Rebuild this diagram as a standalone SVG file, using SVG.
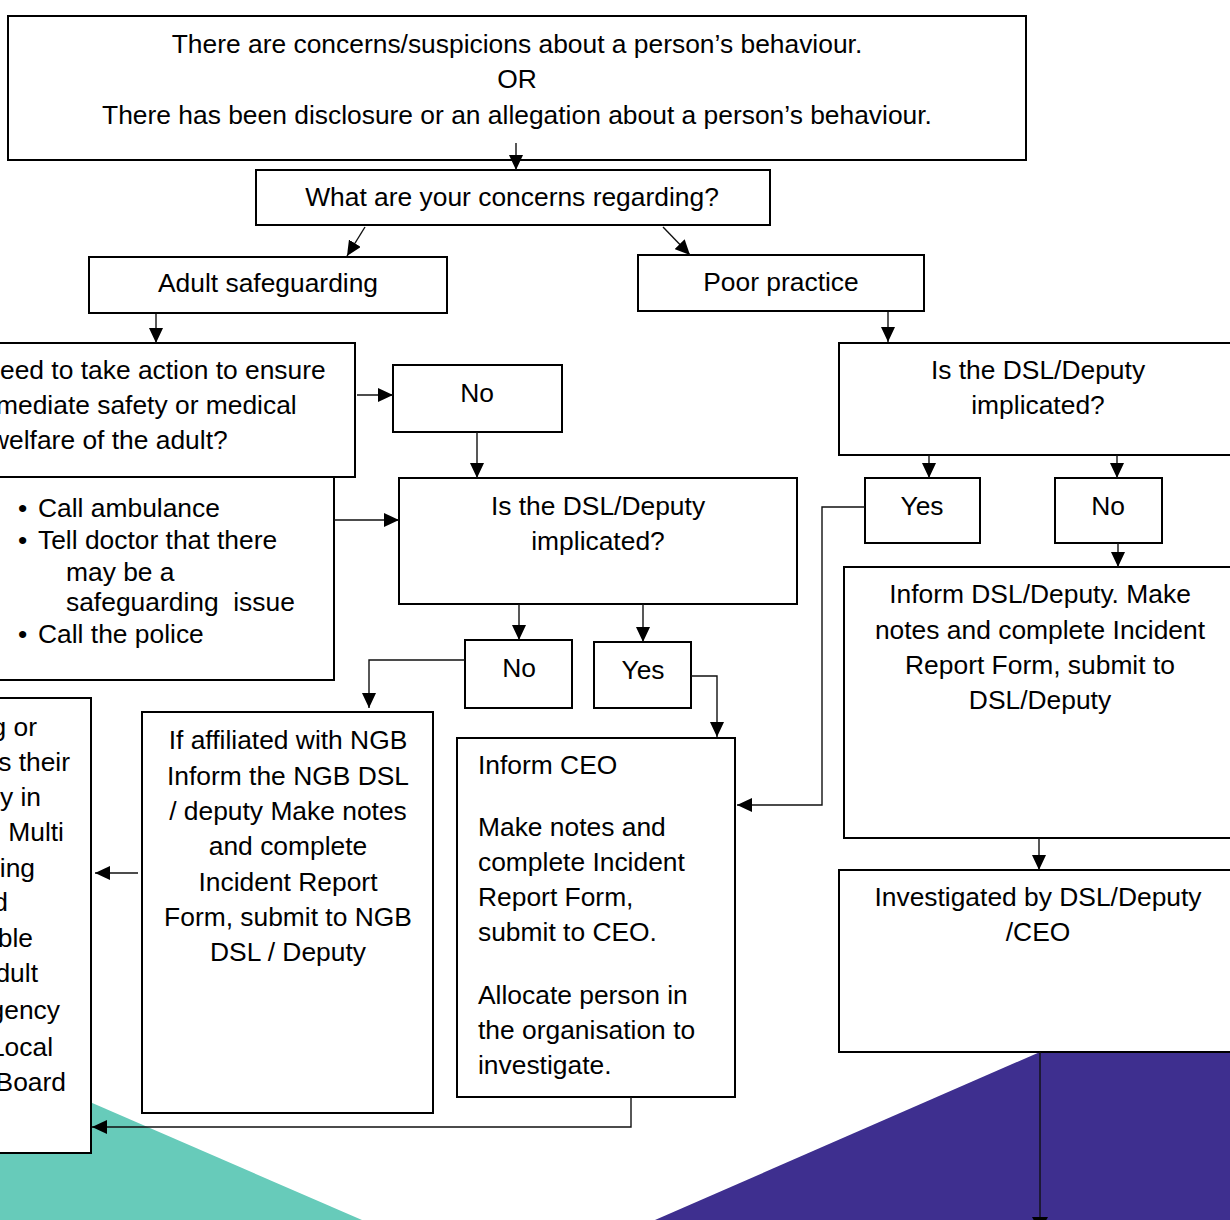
<svg xmlns="http://www.w3.org/2000/svg" width="1230" height="1220" viewBox="0 0 1230 1220">
<defs>
<style>
.box{fill:#fff;stroke:#000;stroke-width:2}
.t{font-family:"Liberation Sans",Arial,sans-serif;font-size:26.4px;fill:#000}
.c{text-anchor:middle}
.e{text-anchor:end}
.ln{fill:none;stroke:#111;stroke-width:1.4}
</style>
<marker id="ah" markerUnits="userSpaceOnUse" markerWidth="15" markerHeight="14" refX="15" refY="7" orient="auto">
<path d="M0,0 L15,7 L0,14 z" fill="#000"/>
</marker>
</defs>
<rect width="1230" height="1220" fill="#fff"/>
<g id="background">
<polygon points="0,1063 362,1220 0,1220" fill="#67CBBA"/>
<polygon points="655,1220 1230,1220 1230,969" fill="#3E2F8F"/>
</g>
<g id="n-top">
<rect class="box" x="8" y="16" width="1018" height="144"/>
<text class="t c" x="517" y="53">There are concerns/suspicions about a person’s behaviour.</text>
<text class="t c" x="517" y="88">OR</text>
<text class="t c" x="517" y="124">There has been disclosure or an allegation about a person’s behaviour.</text>
</g>
<g id="n-what">
<rect class="box" x="256" y="170" width="514" height="55"/>
<text class="t c" x="512" y="206">What are your concerns regarding?</text>
</g>
<g id="n-adult">
<rect class="box" x="89" y="257" width="358" height="56"/>
<text class="t c" x="268" y="292">Adult safeguarding</text>
</g>
<g id="n-poor">
<rect class="box" x="638" y="255" width="286" height="56"/>
<text class="t c" x="781" y="291">Poor practice</text>
</g>
<g id="n-action">
<rect class="box" x="-10" y="343" width="365" height="134"/>
<text class="t" x="0" y="379">eed to take action to ensure</text>
<text class="t" x="-4" y="414">mediate safety or medical</text>
<text class="t" x="-10" y="449">welfare of the adult?</text>
</g>
<g id="n-no1">
<rect class="box" x="393" y="365" width="169" height="67"/>
<text class="t c" x="477" y="402">No</text>
</g>
<g id="n-bullets">
<rect class="box" x="-10" y="477" width="344" height="203"/>
<text class="t" x="18" y="517">•</text><text class="t" x="38" y="517">Call ambulance</text>
<text class="t" x="18" y="549">•</text><text class="t" x="38" y="549">Tell doctor that there</text>
<text class="t" x="66" y="581">may be a</text>
<text class="t" x="66" y="611" xml:space="preserve">safeguarding  issue</text>
<text class="t" x="18" y="643">•</text><text class="t" x="38" y="643">Call the police</text>
</g>
<g id="n-dsl1">
<rect class="box" x="399" y="478" width="398" height="126"/>
<text class="t c" x="598" y="515">Is the DSL/Deputy</text>
<text class="t c" x="598" y="550">implicated?</text>
</g>
<g id="n-no2">
<rect class="box" x="465" y="640" width="107" height="68"/>
<text class="t c" x="519" y="677">No</text>
</g>
<g id="n-yes2">
<rect class="box" x="594" y="642" width="97" height="66"/>
<text class="t c" x="643" y="679">Yes</text>
</g>
<g id="n-ngb">
<rect class="box" x="142" y="712" width="291" height="401"/>
<text class="t c" x="288" y="749">If affiliated with NGB</text>
<text class="t c" x="288" y="785">Inform the NGB DSL</text>
<text class="t c" x="288" y="820">/ deputy Make notes</text>
<text class="t c" x="288" y="855">and complete</text>
<text class="t c" x="288" y="891">Incident Report</text>
<text class="t c" x="288" y="926">Form, submit to NGB</text>
<text class="t c" x="288" y="961">DSL / Deputy</text>
</g>
<g id="n-ceo">
<rect class="box" x="457" y="738" width="278" height="359"/>
<text class="t" x="478" y="774">Inform CEO</text>
<text class="t" x="478" y="836">Make notes and</text>
<text class="t" x="478" y="871">complete Incident</text>
<text class="t" x="478" y="906">Report Form,</text>
<text class="t" x="478" y="941">submit to CEO.</text>
<text class="t" x="478" y="1004">Allocate person in</text>
<text class="t" x="478" y="1039">the organisation to</text>
<text class="t" x="478" y="1074">investigate.</text>
</g>
<g id="n-left">
<rect class="box" x="-10" y="698" width="101" height="455"/>
<text class="t e" x="37" y="736">g or</text>
<text class="t e" x="70" y="771">s their</text>
<text class="t e" x="41" y="806">y in</text>
<text class="t e" x="64" y="841">Multi</text>
<text class="t e" x="35" y="877">ing</text>
<text class="t e" x="8" y="911">d</text>
<text class="t e" x="33" y="947">ble</text>
<text class="t e" x="38" y="982">dult</text>
<text class="t e" x="60" y="1019">gency</text>
<text class="t e" x="53" y="1056">Local</text>
<text class="t e" x="66" y="1091">Board</text>
</g>
<g id="n-dsl2">
<rect class="box" x="839" y="343" width="401" height="112"/>
<text class="t c" x="1038" y="379">Is the DSL/Deputy</text>
<text class="t c" x="1038" y="414">implicated?</text>
</g>
<g id="n-yes3">
<rect class="box" x="865" y="478" width="115" height="65"/>
<text class="t c" x="922" y="515">Yes</text>
</g>
<g id="n-no3">
<rect class="box" x="1055" y="478" width="107" height="65"/>
<text class="t c" x="1108" y="515">No</text>
</g>
<g id="n-informdsl">
<rect class="box" x="844" y="567" width="396" height="271"/>
<text class="t c" x="1040" y="603">Inform DSL/Deputy. Make</text>
<text class="t c" x="1040" y="639">notes and complete Incident</text>
<text class="t c" x="1040" y="674">Report Form, submit to</text>
<text class="t c" x="1040" y="709">DSL/Deputy</text>
</g>
<g id="n-invest">
<rect class="box" x="839" y="870" width="401" height="182"/>
<text class="t c" x="1038" y="906">Investigated by DSL/Deputy</text>
<text class="t c" x="1038" y="941">/CEO</text>
</g>
<g id="connectors">
<line class="ln" x1="516" y1="143" x2="516" y2="170" marker-end="url(#ah)"/>
<line class="ln" x1="365" y1="227" x2="347" y2="256" marker-end="url(#ah)"/>
<line class="ln" x1="663" y1="227" x2="690" y2="255" marker-end="url(#ah)"/>
<line class="ln" x1="156" y1="314" x2="156" y2="343" marker-end="url(#ah)"/>
<line class="ln" x1="888" y1="312" x2="888" y2="342" marker-end="url(#ah)"/>
<line class="ln" x1="357" y1="395" x2="393" y2="395" marker-end="url(#ah)"/>
<line class="ln" x1="477" y1="432" x2="477" y2="478" marker-end="url(#ah)"/>
<line class="ln" x1="334" y1="520" x2="399" y2="520" marker-end="url(#ah)"/>
<line class="ln" x1="519" y1="604" x2="519" y2="640" marker-end="url(#ah)"/>
<line class="ln" x1="643" y1="604" x2="643" y2="642" marker-end="url(#ah)"/>
<polyline class="ln" points="465,660 369,660 369,708" marker-end="url(#ah)"/>
<polyline class="ln" points="691,676 717,676 717,737" marker-end="url(#ah)"/>
<polyline class="ln" points="631,1097 631,1127 92,1127" marker-end="url(#ah)"/>
<line class="ln" x1="138" y1="873" x2="95" y2="873" marker-end="url(#ah)"/>
<line class="ln" x1="929" y1="455" x2="929" y2="478" marker-end="url(#ah)"/>
<line class="ln" x1="1117" y1="455" x2="1117" y2="478" marker-end="url(#ah)"/>
<polyline class="ln" points="865,507 822,507 822,805 737,805" marker-end="url(#ah)"/>
<line class="ln" x1="1118" y1="543" x2="1118" y2="567" marker-end="url(#ah)"/>
<line class="ln" x1="1039" y1="838" x2="1039" y2="870" marker-end="url(#ah)"/>
<line class="ln" x1="1040" y1="1052" x2="1040" y2="1218" stroke-width="2"/>
<path d="M1032,1217 L1048,1217 L1040,1231 z" fill="#000"/>
</g>
</svg>
